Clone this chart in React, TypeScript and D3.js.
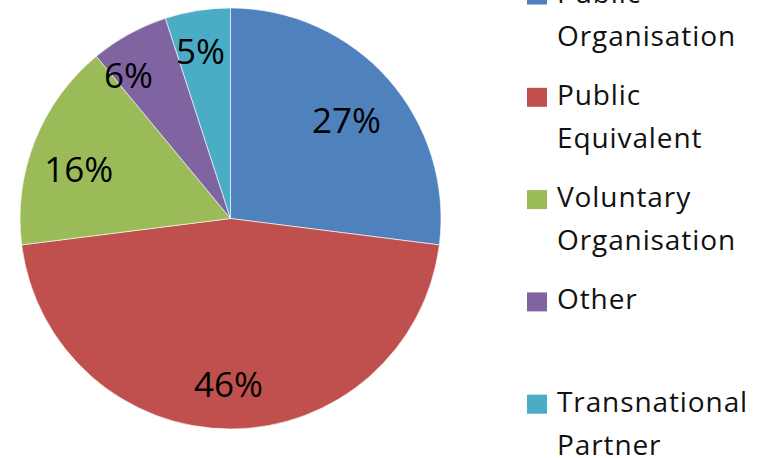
import React from "react";
import * as d3 from "d3";

const categories = [
  "Public Organisation",
  "Public Equivalent",
  "Voluntary Organisation",
  "Other",
  "Transnational Partner",
];
const legendLines = [
  ["Public", "Organisation"],
  ["Public", "Equivalent"],
  ["Voluntary", "Organisation"],
  ["Other"],
  ["Transnational", "Partner"],
];
const values = [27, 46, 16, 6, 5];
const colors = ["#4F81BD", "#C0504D", "#9BBB59", "#8064A2", "#4BACC6"];

// layout (not data): label nudges mimicking Excel's best-fit placement
const labelNudge: [number, number][] = [
  [-4, 8],
  [-2, 6],
  [-3, 10],
  [-25, -3],
  [-5, -9],
];

const W = 767;
const H = 458;
const cx = 230.5;
const cy = 218.5;
const R = 210.5;
const FONT = "'Open Sans', 'DejaVu Sans', sans-serif";

export default function App() {
  const pie = d3
    .pie<number>()
    .sort(null)
    .startAngle(0)
    .endAngle(2 * Math.PI)
    .value((d) => d);
  const arcs = pie(values);
  const arc = d3.arc<d3.PieArcDatum<number>>().innerRadius(0).outerRadius(R);
  const labelArc = d3
    .arc<d3.PieArcDatum<number>>()
    .innerRadius(160)
    .outerRadius(160);
  const total = d3.sum(values);

  const legendY = d3
    .scaleLinear()
    .domain([0, 1])
    .range([2.5, 104.8]);
  const labelSize = 35;
  const legendSize = 28;

  return (
    <svg
      width={W}
      height={H}
      style={{ position: "absolute", left: 0, top: 0, background: "#fff" }}
    >
      <g transform={`translate(${cx},${cy})`}>
        {arcs.map((a, i) => (
          <path
            key={i}
            d={arc(a) || ""}
            fill={colors[i]}
            stroke="#ffffff"
            strokeOpacity={0.6}
            strokeWidth={1}
          />
        ))}
        {arcs.map((a, i) => {
          const [x, y] = labelArc.centroid(a);
          return (
            <text
              key={"l" + i}
              x={x + labelNudge[i][0]}
              y={y + labelNudge[i][1] + labelSize * 0.36}
              textAnchor="middle"
              fontFamily={FONT}
              fontSize={labelSize}
              fill="#000"
            >
              {Math.round((values[i] / total) * 100)}%
            </text>
          );
        })}
      </g>
      <g>
        {categories.map((c, i) => {
          const base = legendY(i);
          return (
            <g key={c}>
              <rect
                x={527}
                y={base - 17}
                width={20}
                height={19}
                fill={colors[i]}
              />
              {legendLines[i].map((t, j) => (
                <text
                  key={j}
                  x={557}
                  y={base + j * 43}
                  fontFamily={FONT}
                  fontSize={legendSize}
                  letterSpacing={0.9}
                  fill="#111"
                >
                  {t}
                </text>
              ))}
            </g>
          );
        })}
      </g>
    </svg>
  );
}
